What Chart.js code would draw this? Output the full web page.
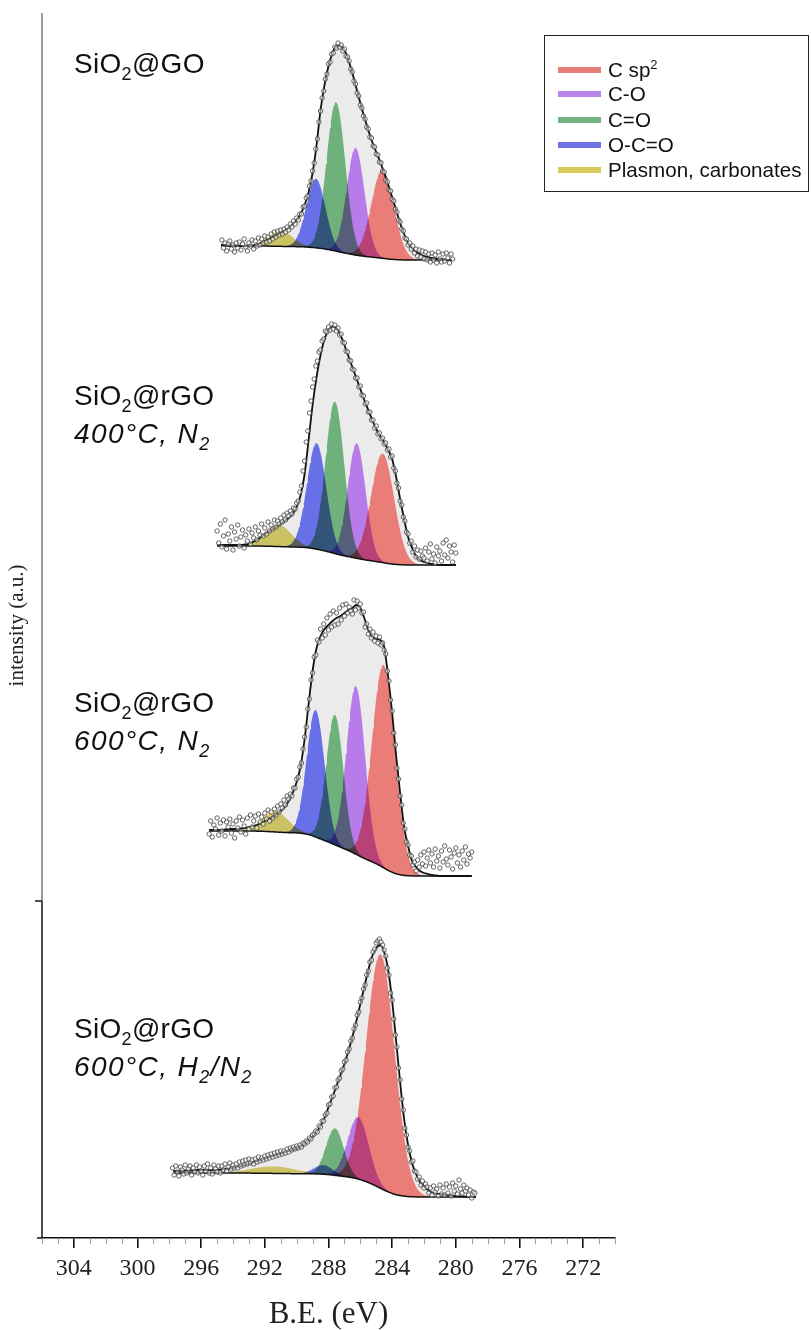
<!DOCTYPE html>
<html>
<head>
<meta charset="utf-8">
<title>C 1s XPS – SiO2@GO / SiO2@rGO</title>
<script src="https://cdn.jsdelivr.net/npm/chart.js@4.4.1/dist/chart.umd.min.js"></script>
<style>
  html, body { margin: 0; padding: 0; background: #fff; }
  #wrap { position: relative; width: 811px; height: 1331px; overflow: hidden; }
  #c { position: absolute; left: 0; top: 0; }
  .lab { position: absolute; left: 74px; font-family: 'Liberation Sans', Arial, sans-serif; font-size: 28px; line-height: 28px; color: #111; white-space: nowrap; letter-spacing: 0.3px; }
  .lab.it { font-style: italic; letter-spacing: 1.4px; }
  .lab sub { font-size: 18px; line-height: 0; vertical-align: baseline; position: relative; top: 6.5px; }
  #legend { position: absolute; left: 544px; top: 35px; width: 263px; height: 155px; border: 1.5px solid #222; }
  .li { position: absolute; left: 13px; width: 248px; height: 20px; }
  .sw { position: absolute; left: 0; top: 7px; width: 43px; height: 6px; }
  .lt { position: absolute; left: 50px; top: 0; font: 20.6px/20px 'Liberation Sans', Arial, sans-serif; color: #111; white-space: nowrap; }
  .lt sup { font-size: 13px; line-height: 0; vertical-align: baseline; position: relative; top: -8px; }
</style>
</head>
<body>
<div id="wrap">
  <canvas id="c" width="811" height="1331"></canvas>
  <div class="lab" style="top:50px">SiO<sub>2</sub>@GO</div>
  <div class="lab" style="top:382px">SiO<sub>2</sub>@rGO</div>
  <div class="lab it" style="top:420px">400°C, N<sub>2</sub></div>
  <div class="lab" style="top:689px">SiO<sub>2</sub>@rGO</div>
  <div class="lab it" style="top:727px">600°C, N<sub>2</sub></div>
  <div class="lab" style="top:1015px">SiO<sub>2</sub>@rGO</div>
  <div class="lab it" style="top:1053px">600°C, H<sub>2</sub>/N<sub>2</sub></div>
  <div id="legend"></div>
</div>
<script>
// ---- C 1s spectra
// measured counts: 0.1 eV steps downwards from *_start
// fit envelope:    0.25 eV steps downwards from *_fitStart
const POINT_STEP = 0.1;
const FIT_STEP = 0.25;

const tickValues = [304, 300, 296, 292, 288, 284, 280, 276, 272];

// Fitted components, same order in every panel
const componentNames = ['C sp<sup>2</sup>', 'C-O', 'C=O', 'O-C=O', 'Plasmon, carbonates'];
const legendColors  = ['#e87e7c', '#b985ea', '#72b27c', '#6c74e6', '#d8cb5c'];
const fillColors    = ['#ff8882', '#c887fe', '#77c084', '#7179fb', '#ddd36c'];

// SiO2@GO
const GO_start    = 294.7;
const GO_fitStart = 294.75;
const GO_base     = 978;
const GO_shirley  = 14;
const GO_counts = [
  20,12,17,9,16,19,11,15,8,17,  12,18,10,16,21,13,9,17,14,20,  11,19,14,22,15,21,17,24,18,23,
  19,26,21,28,23,29,25,30,26,31,  28,33,30,36,33,39,36,42,40,46,  46,53,54,62,64,74,79,89,97,111,
  121,138,149,162,169,181,186,196,198,206,  207,213,212,217,213,215,209,211,204,203,
  199,191,188,179,176,167,164,155,152,144,  141,133,131,123,122,114,113,106,105,98,
  97,89,88,80,78,70,69,61,59,51,  48,40,38,31,29,22,21,15,17,11,  14,7,11,4,10,3,9,1,8,0,
  6,-2,7,0,5,-3,8,1,-2,6,  -1,7,2,-3,6,1];
const GO_fit = [15,15,14.5,14.5,14,14,14,14,14.5,15.5,17,19,21,23,25,27,29.5,32,36,40,46,55,68,87,115,150,175,194,207,214,214,210,200,187,172,157,143,130,118,108,98,87,75,63,50,37,26,17,12,8,6,4,3,2,1.5,1,0.5,0,0];
const GO_center = [284.60, 286.30, 287.53, 288.79, 291.05];
const GO_height = [89, 107, 149, 69, 16];
const GO_fwhm   = [1.65, 1.32, 1.38, 1.40, 1.80];

// SiO2@rGO, 400 °C, N2
const R400_start    = 295.0;
const R400_fitStart = 295.0;
const R400_base     = 673;
const R400_shirley  = 19;
const R400_counts = [
  34,22,41,18,29,45,16,31,24,38,  15,33,26,40,19,28,35,17,30,24,  36,21,32,27,38,25,34,30,41,29,
  37,31,43,34,40,36,45,38,44,41,  47,43,50,45,52,49,54,51,57,56,  62,64,73,79,94,104,123,134,152,164,
  178,186,199,204,213,215,224,226,234,233,  238,235,241,236,240,234,237,230,231,223,
  222,214,213,205,204,196,195,187,187,178,  179,170,169,161,162,153,153,145,145,137,
  139,131,132,126,127,121,122,115,116,108,  109,97,94,82,77,64,60,48,44,33,
  31,22,24,13,19,8,15,6,14,9,  7,17,4,13,21,6,11,2,18,9,  14,4,22,10,25,7,19,13,3,20,  12];
const R400_fit = [20,20,20,20,20,20,20,20.5,21,23,25,28,31,33.5,36,38.5,41,44,47,51,58,70,91,125,160,188,210,226,235,238,237,230,220,209,198,187,176,165,155,145,136,129,123,115,106,88,66,46,28,17,9,5,3,2,1,0.5,0,0,0,0,0];
const R400_center = [284.60, 286.23, 287.60, 288.75, 291.16];
const R400_height = [109, 115, 152, 106, 22];
const R400_fwhm   = [1.70, 1.32, 1.38, 1.42, 1.90];

// SiO2@rGO, 600 °C, N2
const R600_start    = 295.5;
const R600_fitStart = 295.5;
const R600_base     = 362;
const R600_shirley  = 45;
const R600_counts = [
  42,55,39,51,47,58,41,53,45,56,  40,54,49,57,43,52,38,55,48,59,  44,56,50,42,58,47,61,49,55,60,
  48,62,54,59,52,63,57,66,55,64,  58,67,61,70,64,72,68,76,71,80,  77,82,80,88,88,97,99,109,113,127,
  139,149,167,177,196,203,219,221,236,234,  247,238,252,241,258,246,262,249,265,251,
  263,252,268,256,271,260,272,263,269,265,  262,276,266,275,268,272,263,264,249,252,
  242,247,238,244,235,240,233,239,231,233,  226,222,205,195,176,165,143,131,108,97,
  80,71,53,47,34,31,21,20,11,14,  5,16,9,21,12,24,10,18,26,13,  22,9,27,15,20,8,25,14,30,17,
  11,26,19,7,23,28,13,21,9,25,  16,29,12,22,18,24];
const R600_fit = [46,46,46,46,46.5,47,47,47,47.5,48,49,50,51,53,55,57,59,62,65,69,75,83,94,110,137,172,205,228,240,247,251,255,258,260,263,266,268,271,268,258,246,239,237,236,229,199,163,120,83,49,30,15,9,5,3,2,1,0.5,0,0,0,0,0,0,0,0,0];
const R600_center = [284.54, 286.28, 287.60, 288.81, 291.36];
const R600_height = [203, 168, 130, 127, 21];
const R600_fwhm   = [1.70, 1.38, 1.26, 1.32, 1.90];

// SiO2@rGO, 600 °C, H2/N2
const R600H_start    = 297.8;
const R600H_fitStart = 297.75;
const R600H_base     = 41;
const R600H_shirley  = 24;
const R600H_counts = [
  29,22,31,25,21,30,27,23,32,24,  28,31,22,29,25,32,24,30,26,22,  31,26,33,24,29,23,32,28,25,31,
  24,31,27,33,26,30,34,28,32,29,  33,29,35,31,36,32,37,33,38,34,  37,33,38,35,40,36,39,37,41,38,
  42,39,43,40,44,41,45,42,46,43,  46,44,48,45,49,47,50,48,51,49,  52,50,54,53,56,55,59,58,62,63,
  66,65,71,70,76,76,82,84,92,93,  100,101,109,110,117,119,126,128,135,137,
  145,148,156,159,168,172,182,185,195,199,  208,212,222,226,235,237,245,248,254,256,
  258,255,252,247,241,229,222,204,197,178,  162,150,129,117,98,87,69,62,50,46,
  35,36,26,25,18,20,12,16,9,13,  10,4,9,2,11,5,8,1,12,3,  9,2,13,4,10,1,14,6,11,3,
  17,8,4,12,6,9,2,7,-1,5,  4];
const R600H_fit = [26,26,26,26.5,26.5,26.5,27,27,27,27,27,27,27.5,28,28.5,29,30,31,32,33,34.5,36,37,38,39.5,41,42,43,44.5,46,47,48,50,53,56,60,65,71,79,90,100,111,122,133,146,160,176,193,210,227,241,249,252,245,227,196,156,115,78,52,34,23,15,11,7,4.5,3.5,3,2.5,2,1.5,1,0.7,0.5,0.2,0,0];
const R600H_center = [284.73, 286.13, 287.60, 288.33, 291.50];
const R600H_height = [234, 62, 47, 9, 7];
const R600H_fwhm   = [2.10, 1.55, 1.30, 1.40, 3.20];

const panels = [
  { start: GO_start,    fitStart: GO_fitStart,    base: GO_base,    shirley: GO_shirley,    counts: GO_counts,    fit: GO_fit,    center: GO_center,    height: GO_height,    fwhm: GO_fwhm },
  { start: R400_start,  fitStart: R400_fitStart,  base: R400_base,  shirley: R400_shirley,  counts: R400_counts,  fit: R400_fit,  center: R400_center,  height: R400_height,  fwhm: R400_fwhm },
  { start: R600_start,  fitStart: R600_fitStart,  base: R600_base,  shirley: R600_shirley,  counts: R600_counts,  fit: R600_fit,  center: R600_center,  height: R600_height,  fwhm: R600_fwhm },
  { start: R600H_start, fitStart: R600H_fitStart, base: R600H_base, shirley: R600H_shirley, counts: R600H_counts, fit: R600H_fit, center: R600H_center, height: R600H_height, fwhm: R600H_fwhm }
];

// ---- line shapes
const MODEL_STEP = 0.05;
function gaussian(e, c, h, w) {
  const d = (e - c) / w;
  return h * Math.exp(-4 * Math.LN2 * d * d);
}

const datasets = [];
panels.forEach(p => {
  const fitBE = p.fit.map((_, i) => +(p.fitStart - i * FIT_STEP).toFixed(3));
  const ptBE = p.counts.map((_, i) => +(p.start - i * POINT_STEP).toFixed(3));
  const low = fitBE[fitBE.length - 1];
  const grid = [];
  for (let k = 0; p.fitStart - k * MODEL_STEP >= low - 1e-9; k++) grid.push(+(p.fitStart - k * MODEL_STEP).toFixed(3));

  const comps = p.center.map((c, j) => grid.map(e => gaussian(e, c, p.height[j], p.fwhm[j])));
  // Shirley background: proportional to the peak area on the low-BE side
  const total = grid.map((_, i) => comps.reduce((s, a) => s + a[i], 0));
  const cum = new Array(grid.length).fill(0);
  for (let i = grid.length - 2; i >= 0; i--) cum[i] = cum[i + 1] + (total[i] + total[i + 1]) * MODEL_STEP / 2;
  const bg = cum.map(a => p.shirley * a / cum[0]);

  const fitPts = p.fit.map((v, i) => ({ x: fitBE[i], y: p.base + v }));
  const envIdx = datasets.length;
  const bgIdx = envIdx + 1;

  datasets.push({ data: fitPts, fill: { target: bgIdx }, backgroundColor: '#ebebeb', borderColor: 'rgba(0,0,0,0)', borderWidth: 0, pointRadius: 0, cubicInterpolationMode: 'monotone', order: 40 });
  datasets.push({ data: grid.map((e, i) => ({ x: e, y: p.base + bg[i] })), fill: false, borderColor: '#111', borderWidth: 1.5, pointRadius: 0, order: 20 });
  comps.forEach((arr, j) => {
    datasets.push({
      label: componentNames[j],
      data: grid.map((e, i) => ({ x: e, y: p.base + bg[i] + arr[i] })),
      fill: { target: bgIdx }, backgroundColor: fillColors[j], borderColor: 'rgba(0,0,0,0)', borderWidth: 0,
      pointRadius: 0, order: 30, blend: 'multiply'
    });
  });
  datasets.push({ data: fitPts, fill: false, borderColor: '#111', borderWidth: 1.8, pointRadius: 0, cubicInterpolationMode: 'monotone', order: 10 });
  datasets.push({
    data: p.counts.map((v, i) => ({ x: ptBE[i], y: p.base + v })),
    showLine: false, fill: false, pointRadius: 2.2, pointBorderWidth: 0.8,
    pointBorderColor: '#404040', pointBackgroundColor: 'rgba(255,255,255,0.5)', order: 0
  });
});

// Component fills are multiplied so that overlapping peaks darken
function nextDrawnMeta(chart, index) {
  const metas = chart.getSortedVisibleDatasetMetas();
  if (index === null) return metas[metas.length - 1];
  const k = metas.findIndex(m => m.index === index);
  return k > 0 ? metas[k - 1] : null;
}
function applyBlend(chart, meta) {
  const ds = meta ? chart.data.datasets[meta.index] : null;
  chart.ctx.globalCompositeOperation = ds && ds.blend === 'multiply' ? 'multiply' : 'source-over';
}
const blendFills = {
  id: 'blendFills',
  beforeDatasetsDraw(chart) { applyBlend(chart, nextDrawnMeta(chart, null)); },
  afterDatasetDraw(chart, args) { applyBlend(chart, nextDrawnMeta(chart, args.index)); },
  afterDatasetsDraw(chart) { chart.ctx.globalCompositeOperation = 'source-over'; }
};

// Minor ticks every 1 eV and the two-tone intensity axis
const axisDecor = {
  id: 'axisDecor',
  afterDraw(chart) {
    const { ctx, chartArea: a, scales: { x } } = chart;
    const seg = (x1, y1, x2, y2) => { ctx.beginPath(); ctx.moveTo(x1, y1); ctx.lineTo(x2, y2); ctx.stroke(); };
    ctx.save();
    ctx.strokeStyle = '#a0a0a0'; ctx.lineWidth = 1;
    for (let v = Math.ceil(x.min); v <= x.max; v++) {
      if (tickValues.includes(v)) continue;
      const px = Math.round(x.getPixelForValue(v)) + 0.5;
      seg(px, a.bottom, px, a.bottom + 6);
    }
    ctx.strokeStyle = '#9d9d9d'; ctx.lineWidth = 2;
    seg(a.left, a.top, a.left, 901);
    ctx.strokeStyle = '#222'; ctx.lineWidth = 1.6;
    seg(a.left, 901, a.left, a.bottom);
    seg(a.left - 7, 901, a.left, 901);
    seg(a.left - 5, a.bottom, a.left, a.bottom);
    ctx.restore();
  }
};

new Chart(document.getElementById('c'), {
  type: 'line',
  data: { datasets },
  options: {
    responsive: false,
    animation: false,
    devicePixelRatio: 1,
    layout: { padding: { left: 0, top: 13, right: 196, bottom: 0 } },
    plugins: { legend: { display: false }, tooltip: { enabled: false } },
    scales: {
      x: {
        type: 'linear', reverse: true, min: 270, max: 306,
        afterFit: s => { s.height = 93; },
        afterBuildTicks: s => { s.ticks = tickValues.map(v => ({ value: v })); },
        ticks: { padding: 6, maxRotation: 0, autoSkip: false, color: '#222',
                 font: { family: "'Liberation Serif', 'Times New Roman', serif", size: 24 } },
        grid: { drawOnChartArea: false, drawTicks: true, tickLength: 10, color: '#111', lineWidth: 1.6 },
        border: { display: true, color: '#111', width: 1.5 },
        title: { display: true, text: 'B.E. (eV)', color: '#222',
                 font: { family: "'Liberation Serif', 'Times New Roman', serif", size: 31, lineHeight: 1 },
                 padding: { top: 0, bottom: 1 } }
      },
      y: {
        type: 'linear', min: 0, max: 1225,
        afterFit: s => { s.width = 42; },
        ticks: { display: false },
        grid: { display: false, drawTicks: false },
        border: { display: false },
        title: { display: true, text: 'intensity (a.u.)', color: '#222',
                 font: { family: "'Liberation Serif', 'Times New Roman', serif", size: 21 },
                 padding: { top: 5, bottom: 0 } }
      }
    }
  },
  plugins: [blendFills, axisDecor]
});

// Legend box
const legendTops = [24, 48, 74, 98.5, 123.5];
const legend = document.getElementById('legend');
componentNames.forEach((name, i) => {
  const row = document.createElement('div');
  row.className = 'li';
  row.style.top = legendTops[i] + 'px';
  row.innerHTML = '<div class="sw" style="background:' + legendColors[i] + '"></div><div class="lt">' + name + '</div>';
  legend.appendChild(row);
});
</script>
</body>
</html>
